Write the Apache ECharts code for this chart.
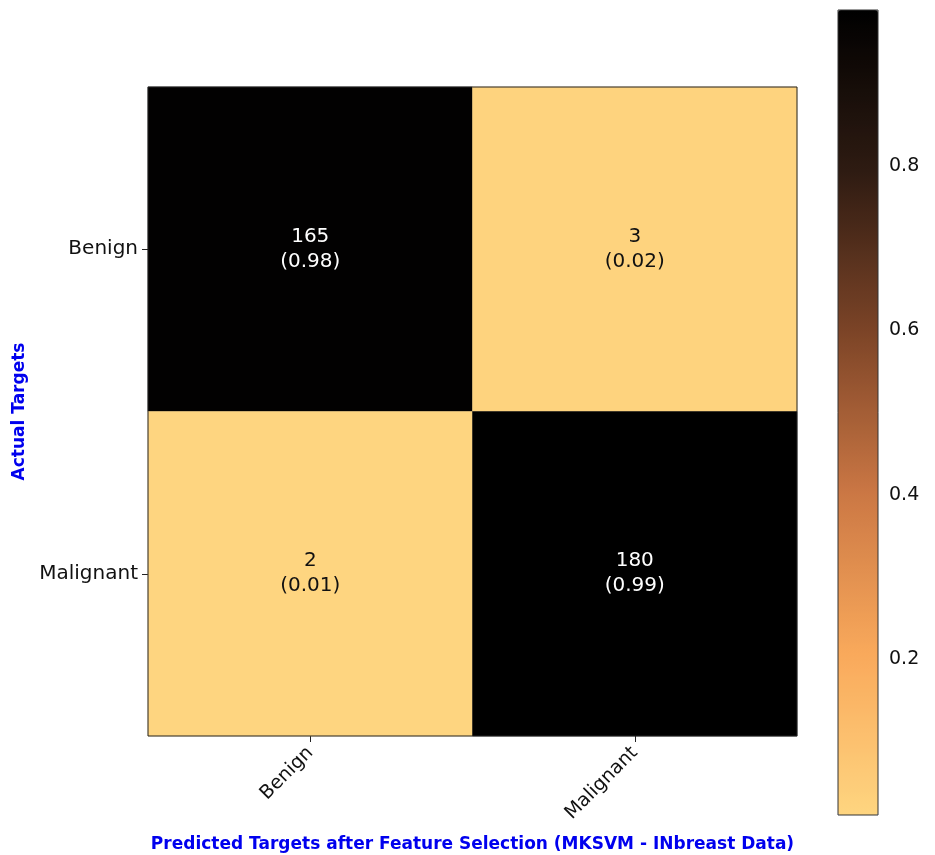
<!DOCTYPE html>
<html>
<head>
<meta charset="utf-8">
<script src="https://cdn.jsdelivr.net/npm/echarts@6/dist/echarts.min.js"></script>
<style>
  html, body { margin: 0; padding: 0; background: #fff; }
  #main { width: 935px; height: 855px; }
</style>
</head>
<body>
<div id="main"></div>
<script>
var predicted = ['Benign', 'Malignant'];
var actual = ['Benign', 'Malignant'];
// rows = actual, cols = predicted
var counts = [[165, 3], [2, 180]];
var ratios = [[0.98, 0.02], [0.01, 0.99]];
var barTicks = [0.2, 0.4, 0.6, 0.8];
var barMin = 0.01, barMax = 0.99;

var cells = [];
for (var r = 0; r < actual.length; r++) {
    for (var c = 0; c < predicted.length; c++) {
        cells.push([c, r, ratios[r][c], counts[r][c]]);
    }
}

var chart = echarts.init(document.getElementById('main'));
var option = {
    backgroundColor: '#fff',
    animation: false,
    textStyle: { fontFamily: 'DejaVu Sans' },
    grid: [
        { left: 148, top: 87, width: 649, height: 649, show: true, borderColor: '#222', borderWidth: 1, z: 5,
          outerBoundsMode: 'none', containLabel: false },
        { left: 838, top: 10, width: 40, height: 805, show: true, borderColor: '#333', borderWidth: 1,
          backgroundColor: 'transparent', z: 10, outerBoundsMode: 'none', containLabel: false }
    ],
    xAxis: [{
        type: 'category',
        gridIndex: 0,
        data: predicted,
        axisLine: { show: false },
        axisTick: { show: true, alignWithLabel: true, length: 6, lineStyle: { color: '#222' } },
        axisLabel: { rotate: 45, fontSize: 19, color: '#111', margin: 14 },
        splitLine: { show: false },
        name: 'Predicted Targets after Feature Selection (MKSVM - INbreast Data)',
        nameLocation: 'middle',
        nameGap: 100,
        nameTextStyle: { color: '#0000ee', fontWeight: 'bold', fontSize: 17 }
    }, {
        type: 'value',
        gridIndex: 1,
        show: false
    }],
    yAxis: [{
        type: 'category',
        gridIndex: 0,
        data: actual,
        inverse: true,
        axisLine: { show: false },
        axisTick: { show: true, alignWithLabel: true, length: 6, lineStyle: { color: '#222' } },
        axisLabel: { fontSize: 20, color: '#111', margin: 10 },
        splitLine: { show: false },
        name: 'Actual Targets',
        nameLocation: 'middle',
        nameGap: 119,
        nameRotate: 90,
        nameTextStyle: { color: '#0000ee', fontWeight: 'bold', fontSize: 17 }
    }, {
        type: 'value',
        gridIndex: 1,
        position: 'right',
        min: barMin,
        max: barMax,
        axisLine: { show: false },
        axisTick: { show: true, length: 6, customValues: barTicks, lineStyle: { color: '#222' } },
        axisLabel: { fontSize: 19, color: '#111', margin: 11, customValues: barTicks,
            formatter: function (v) { return v.toFixed(1); } },
        splitLine: { show: false }
    }],
    visualMap: {
        type: 'continuous',
        dimension: 2,
        seriesIndex: 0,
        min: barMin,
        max: barMax,
        calculable: false,
        orient: 'vertical',
        left: 838,
        top: 10,
        padding: 0,
        itemWidth: 40,
        itemHeight: 805,
        text: null,
        showLabel: false,
        inRange: { color: ['#FED580', '#F9A95B', '#CB7744', '#7C4427', '#2E1B12', '#000000'] }
    },
    series: [{
        type: 'heatmap',
        xAxisIndex: 0,
        yAxisIndex: 0,
        data: cells,
        label: {
            show: true,
            fontSize: 20,
            lineHeight: 25,
            formatter: function (p) {
                return p.value[3] + '\n(' + p.value[2].toFixed(2) + ')';
            },
            color: '#fff'
        },
        itemStyle: { borderWidth: 0 }
    }]
};
// dark text on light cells
option.series[0].data = cells.map(function (d) {
    return { value: d, label: { color: d[2] > 0.5 ? '#fff' : '#111' } };
});
chart.setOption(option);
</script>
</body>
</html>
